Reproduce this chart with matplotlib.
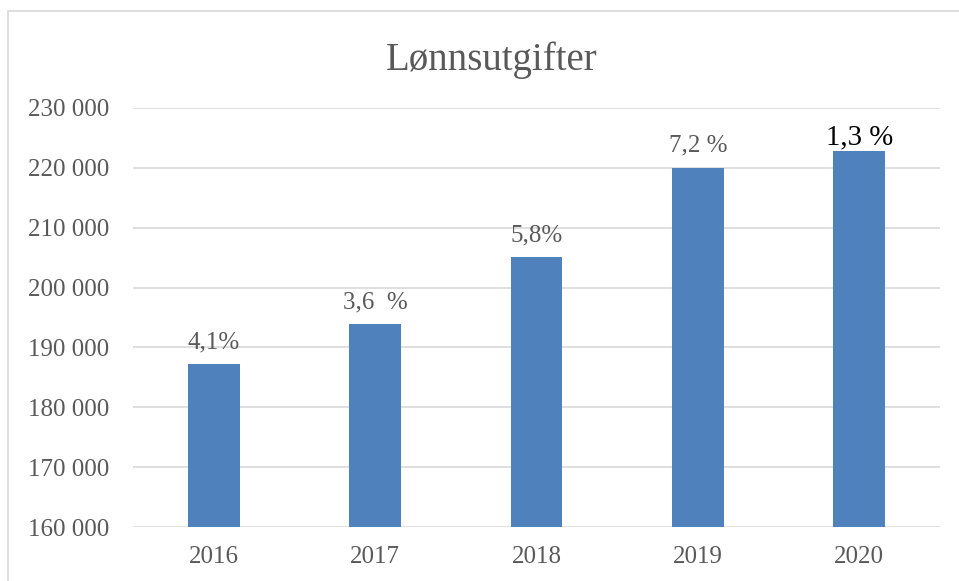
import matplotlib.pyplot as plt
from matplotlib.patches import Rectangle
import numpy as np

# data
years = ['2016', '2017', '2018', '2019', '2020']
salaries = [187200, 193900, 205100, 220000, 222800]
growth_labels = ['4,1%', '3,6  %', '5,8%', '7,2 %', '1,3 %']

bar_color = '#4F81BD'
text_color = '#595959'
grid_color = '#D9D9D9'

plt.rcParams['font.family'] = ['Liberation Serif', 'DejaVu Serif']

fig = plt.figure(figsize=(9.59, 5.81), dpi=100)
ax = fig.add_axes([133 / 959, 1 - 527 / 581, (940 - 133) / 959, (527 - 108) / 581])

# chart frame (runs off the right and bottom edge)
fig.patches.append(Rectangle((8 / 959, -0.1), 1.2, 1 - 11 / 581 + 0.1, transform=fig.transFigure,
                             fill=False, edgecolor='#D9D9D9', linewidth=1.2))

positions = np.arange(len(years))
bars = ax.bar(positions, salaries, width=0.32, color=bar_color, zorder=3)

# labels over the bars; the last one is bigger and black
for i, (bar, lab) in enumerate(zip(bars, growth_labels)):
    last = i == len(years) - 1
    ax.text(bar.get_x() + bar.get_width() / 2, bar.get_height() + (200 if last else 1850), lab,
            ha='center', va='bottom', fontsize=20.8 if last else 18,
            color='black' if last else text_color, zorder=4)

ax.set_ylim(160000, 230000)
ax.set_xlim(-0.5, len(years) - 0.5)
ticks = np.arange(160000, 230001, 10000)
ax.set_yticks(ticks)
ax.set_yticklabels([f'{t:,}'.replace(',', ' ') for t in ticks], fontsize=18, color=text_color)
ax.set_xticks(positions)
ax.set_xticklabels(years, fontsize=18, color=text_color)
ax.tick_params(axis='y', length=0, pad=17)
ax.tick_params(axis='x', length=0, pad=14)

ax.grid(axis='y', color=grid_color, linewidth=1.2, zorder=0)
for s in ax.spines.values():
    s.set_visible(False)

fig.text(492 / 959, 1 - 60 / 581, 'Lønnsutgifter', ha='center', va='center',
         fontsize=28, color=text_color)

fig.savefig('out.png', dpi=100)
